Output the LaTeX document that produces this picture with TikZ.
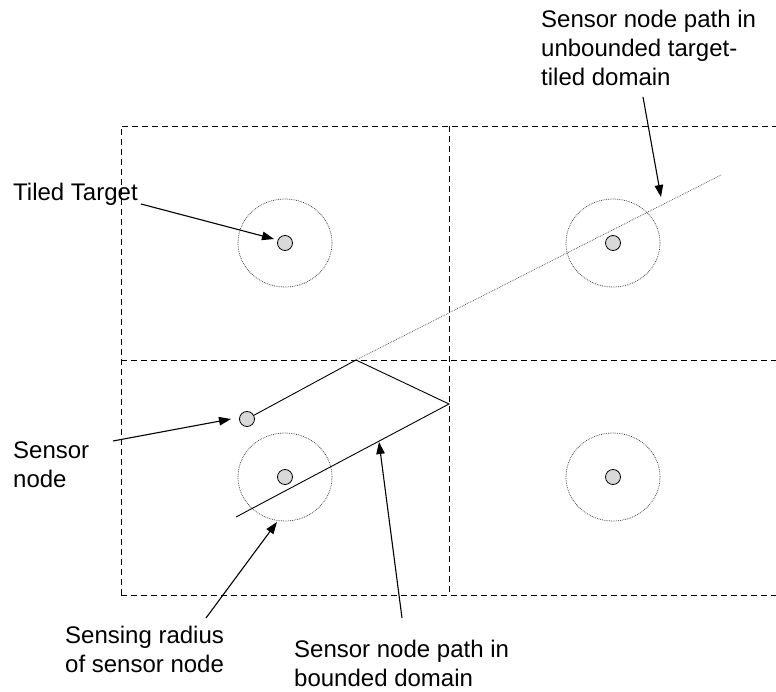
\documentclass[tikz,border=0pt]{standalone}
\usepackage{fontspec}
\setmainfont{Liberation Sans}
\usetikzlibrary{arrows.meta}
\begin{document}
\begin{tikzpicture}[x=1pt,y=-1pt,
  tile/.style={draw=black,line width=0.9pt,dash pattern=on 6pt off 4pt},
  target/.style={circle,draw=black,line width=0.8pt,fill=black!15,minimum size=15pt,inner sep=0pt},
  sensorpt/.style={target},
  sensrange/.style={draw=black!75,line width=0.75pt,dash pattern=on 0.8pt off 1pt},
  pathline/.style={draw=black,line width=0.9pt},
  ghostpath/.style={draw=black!70,line width=0.7pt,dash pattern=on 0.8pt off 1pt},
  pointer/.style={draw=black,line width=1.1pt,-{Triangle[length=12pt,width=8.5pt]}},
  lbl/.style={font=\fontsize{24pt}{29pt}\selectfont,align=left,inner sep=0pt,anchor=base west}]
\useasboundingbox (0,0) rectangle (776,692);

% tiling of the domain
\draw[tile] (121,595) -- (121,126) -- (776,126);
\draw[tile] (121,360) -- (776,360);
\draw[tile] (121,595) -- (776,595);
\draw[tile] (449,126) -- (449,595);

% sensing ranges around the targets
\draw[sensrange] (285,243) ellipse [x radius=47pt,y radius=44pt];
\draw[sensrange] (613,243) ellipse [x radius=47pt,y radius=44pt];
\draw[sensrange] (285,477) ellipse [x radius=47pt,y radius=44pt];
\draw[sensrange] (613,477) ellipse [x radius=47pt,y radius=44pt];

% targets
\node[target] (t1) at (285,243) {};
\node[target] (t2) at (613,243) {};
\node[target] (t3) at (285,477) {};
\node[target] (t4) at (613,477) {};

% sensor node and its paths
\node[sensorpt] (sn) at (247,419) {};
\coordinate (p1) at (356,360);
\coordinate (p2) at (449,404);
\coordinate (p3) at (236,517);
\coordinate (pe) at (721,175);
\draw[pathline] (sn) -- (p1) -- (p2) -- (p3);
\draw[ghostpath] (p1) -- (pe);

% labels (anchored on the baseline of their last line)
\node[lbl] (ltt) at (13,201) {Tiled Target};
\node[lbl] (lun) at (541,86) {Sensor node path in\\unbounded target-\\tiled domain};
\node[lbl] (lsn) at (13,487) {Sensor\\node};
\node[lbl] (lsr) at (65,672) {Sensing radius\\of sensor node};
\node[lbl] (lbd) at (294,686) {Sensor node path in\\bounded domain};

% pointers
\coordinate (a1s) at (141,204);  \coordinate (a1e) at (274,239);
\coordinate (a2s) at (643,97);   \coordinate (a2e) at (661,197);
\coordinate (a3s) at (113,441);  \coordinate (a3e) at (231,419);
\coordinate (a4s) at (206,618);  \coordinate (a4e) at (277,522);
\coordinate (a5s) at (402,618);  \coordinate (a5e) at (379,442);
\draw[pointer] (a1s) -- (a1e);
\draw[pointer] (a2s) -- (a2e);
\draw[pointer] (a3s) -- (a3e);
\draw[pointer] (a4s) -- (a4e);
\draw[pointer] (a5s) -- (a5e);
\end{tikzpicture}
\end{document}
